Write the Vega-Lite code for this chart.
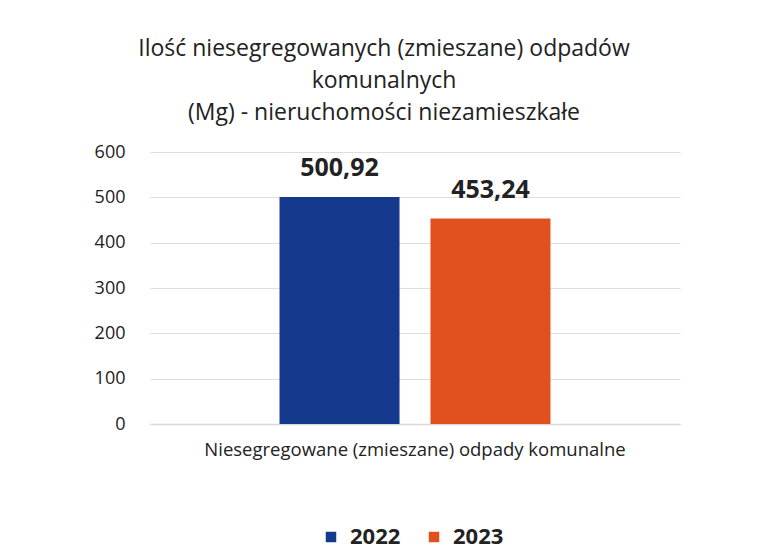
{
  "$schema": "https://vega.github.io/schema/vega-lite/v6.json",
  "autosize": "none",
  "width": 530,
  "height": 272,
  "padding": {"left": 150, "top": 152, "right": 78, "bottom": 125},
  "background": "white",
  "config": {
    "font": "Open Sans",
    "view": {"stroke": null},
    "locale": {"number": {"decimal": ",", "thousands": " ", "grouping": [3], "currency": ["", " zł"]}}
  },
  "title": {
    "text": ["Ilość niesegregowanych (zmieszane) odpadów", "komunalnych", "(Mg) - nieruchomości niezamieszkałe"],
    "fontSize": 23,
    "fontWeight": "normal",
    "color": "#222222",
    "lineHeight": 32,
    "anchor": "middle",
    "dx": -31,
    "offset": 18
  },
  "data": {
    "values": [
      {"category": "Niesegregowane (zmieszane) odpady komunalne", "year": "2022", "value": 500.92},
      {"category": "Niesegregowane (zmieszane) odpady komunalne", "year": "2023", "value": 453.24}
    ]
  },
  "encoding": {
    "x": {
      "field": "category",
      "type": "nominal",
      "scale": {"paddingInner": 0, "paddingOuter": 0.478},
      "axis": {
        "title": null,
        "labelAngle": 0,
        "labelFontSize": 18.5,
        "labelLimit": 700,
        "labelColor": "#222222",
        "labelPadding": 16,
        "ticks": false,
        "domainColor": "#d9d9d9",
        "domainWidth": 1.5
      }
    },
    "xOffset": {"field": "year", "type": "nominal", "scale": {"paddingInner": 0.205, "paddingOuter": 0}},
    "y": {
      "field": "value",
      "type": "quantitative",
      "scale": {"domain": [0, 600]},
      "axis": {
        "title": null,
        "values": [0, 100, 200, 300, 400, 500, 600],
        "labelFontSize": 18,
        "labelColor": "#222222",
        "labelPadding": 25,
        "ticks": false,
        "domain": false,
        "gridColor": "#dedede",
        "gridWidth": 1.2
      }
    }
  },
  "layer": [
    {
      "mark": {"type": "bar"},
      "encoding": {
        "color": {
          "field": "year",
          "type": "nominal",
          "scale": {"domain": ["2022", "2023"], "range": ["#15398c", "#e0511d"]},
          "legend": {
            "title": null,
            "orient": "none",
            "direction": "horizontal",
            "legendX": 170,
            "legendY": 374,
            "symbolType": "square",
            "symbolSize": 110,
            "symbolStrokeWidth": 0,
            "labelFontSize": 22,
            "labelFontWeight": "bold",
            "labelColor": "#222222",
            "columnPadding": 22,
            "labelOffset": 8
          }
        }
      }
    },
    {
      "mark": {"type": "text", "baseline": "alphabetic", "dy": -21, "fontSize": 25, "fontWeight": "bold", "color": "#222222"},
      "encoding": {
        "text": {"field": "value", "type": "quantitative", "format": ".2f"}
      }
    }
  ]
}
